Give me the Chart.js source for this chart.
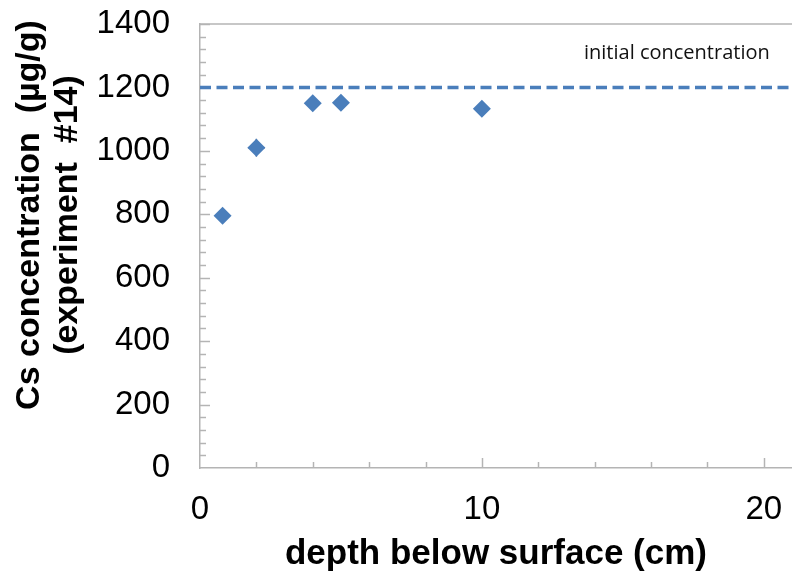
<!DOCTYPE html>
<html>
<head>
<meta charset="utf-8">
<script src="https://cdn.jsdelivr.net/npm/chart.js@4"></script>
<style>
  html, body { margin: 0; padding: 0; background: #fff; }
  #wrap { width: 792px; height: 574px; }
</style>
</head>
<body>
<div id="wrap"><canvas id="csChart" width="792" height="574"></canvas></div>
<script>
// measured Cs concentration vs depth
const depthCm = [0.8, 2, 4, 5, 10];
const csConc = [795, 1010, 1150, 1152, 1133];
const errDepth = [0, 0.3, 0, 0, 0];
const errConc = [0, 28, 0, 0, 0];

// initial concentration reference line
const initialX = [0, 21];
const initialY = [1200, 1200];

const xTickLabels = [0, 10, 20];
const yTickLabels = [0, 200, 400, 600, 800, 1000, 1200, 1400];

const BLUE = "#4a7ebb";
const AXIS = "#b4b4b4";
const FONT = "'Liberation Sans', Arial, sans-serif";

// inward tick marks, top frame line, error bars, titles
const axisDecor = {
    id: "axisDecor",
    beforeDatasetsDraw(chart) {
        const ctx = chart.ctx;
        const a = chart.chartArea;
        const xs = chart.scales.x;
        const ys = chart.scales.y;
        ctx.save();
        ctx.strokeStyle = AXIS;
        ctx.lineWidth = 1.5;

        ctx.beginPath();
        ctx.moveTo(a.left, a.top);
        ctx.lineTo(a.right, a.top);
        ctx.stroke();

        for (let v = 40; v <= 1400; v += 40) {
            let y = Math.round(ys.getPixelForValue(v)) + 0.5;
            let len = (v % 200 === 0) ? 10 : 6;
            ctx.beginPath();
            ctx.moveTo(a.left, y);
            ctx.lineTo(a.left + len, y);
            ctx.stroke();
        }
        for (let v = 2; v <= 21; v += 2) {
            let x = Math.round(xs.getPixelForValue(v)) + 0.5;
            let len = (v % 10 === 0) ? 10 : 6;
            ctx.beginPath();
            ctx.moveTo(x, a.bottom);
            ctx.lineTo(x, a.bottom - len);
            ctx.stroke();
        }

        // error bars
        ctx.strokeStyle = "#3d5f8a";
        ctx.lineWidth = 1.5;
        depthCm.forEach((d, i) => {
            let px = xs.getPixelForValue(d);
            let py = ys.getPixelForValue(csConc[i]);
            if (errConc[i]) {
                ctx.beginPath();
                ctx.moveTo(px, ys.getPixelForValue(csConc[i] - errConc[i]));
                ctx.lineTo(px, ys.getPixelForValue(csConc[i] + errConc[i]));
                ctx.stroke();
            }
            if (errDepth[i]) {
                ctx.beginPath();
                ctx.moveTo(xs.getPixelForValue(d - errDepth[i]), py);
                ctx.lineTo(xs.getPixelForValue(d + errDepth[i]), py);
                ctx.stroke();
            }
        });
        ctx.restore();
    },
    afterDraw(chart) {
        const ctx = chart.ctx;
        ctx.save();
        // y axis title, two lines
        ctx.fillStyle = "#000";
        ctx.font = "bold 34px " + FONT;
        ctx.textAlign = "center";
        ctx.textBaseline = "middle";
        ctx.translate(30, 215);
        ctx.rotate(-Math.PI / 2);
        ctx.fillText("Cs concentration  (\u00b5g/g)", 0, 0);
        ctx.fillText("(experiment  #14)", 0, 38);
        ctx.restore();

        ctx.save();
        ctx.fillStyle = "#111";
        ctx.font = "20px 'Open Sans', 'Noto Sans', sans-serif";
        ctx.textAlign = "left";
        ctx.textBaseline = "middle";
        ctx.fillText("initial concentration", 584, 53);
        ctx.restore();
    }
};

new Chart(document.getElementById("csChart"), {
    type: "scatter",
    plugins: [axisDecor],
    data: {
        datasets: [{
            label: "initial concentration",
            type: "line",
            data: initialX.map((x, i) => ({ x: x, y: initialY[i] })),
            borderColor: BLUE,
            borderWidth: 3.5,
            borderDash: [11, 5.5],
            pointRadius: 0,
            fill: false
        }, {
            label: "Cs",
            data: depthCm.map((x, i) => ({ x: x, y: csConc[i] })),
            pointStyle: "rectRot",
            pointRadius: 9,
            pointBackgroundColor: BLUE,
            pointBorderColor: BLUE,
            pointBorderWidth: 0
        }]
    },
    options: {
        responsive: false,
        animation: false,
        layout: { autoPadding: false, padding: { top: 24, right: 0, left: 0, bottom: 0 } },
        plugins: {
            legend: { display: false },
            tooltip: { enabled: false }
        },
        scales: {
            x: {
                type: "linear",
                min: 0,
                max: 21,
                afterFit(scale) {
                    scale.height = 106;
                    scale.paddingLeft = 0;
                    scale.paddingRight = 0;
                },
                afterBuildTicks(scale) {
                    scale.ticks = xTickLabels.map(v => ({ value: v }));
                },
                ticks: {
                    color: "#000",
                    padding: 22,
                    maxRotation: 0,
                    callback: v => String(v),
                    font: { family: FONT, size: 33 }
                },
                grid: { drawOnChartArea: false, drawTicks: false },
                border: { color: AXIS, width: 1.5 },
                title: {
                    display: true,
                    text: "depth below surface (cm)",
                    color: "#000",
                    padding: { top: 0, bottom: 0 },
                    font: { family: FONT, size: 35, weight: "bold", lineHeight: 1.1 }
                }
            },
            y: {
                min: 0,
                max: 1400,
                afterFit(scale) {
                    scale.width = 200;
                    scale.paddingTop = 0;
                    scale.paddingBottom = 0;
                },
                afterBuildTicks(scale) {
                    scale.ticks = yTickLabels.map(v => ({ value: v }));
                },
                ticks: {
                    color: "#000",
                    padding: 30,
                    callback: v => String(v),
                    font: { family: FONT, size: 33 }
                },
                grid: { drawOnChartArea: false, drawTicks: false },
                border: { color: AXIS, width: 1.5 }
            }
        }
    }
});
</script>
</body>
</html>
